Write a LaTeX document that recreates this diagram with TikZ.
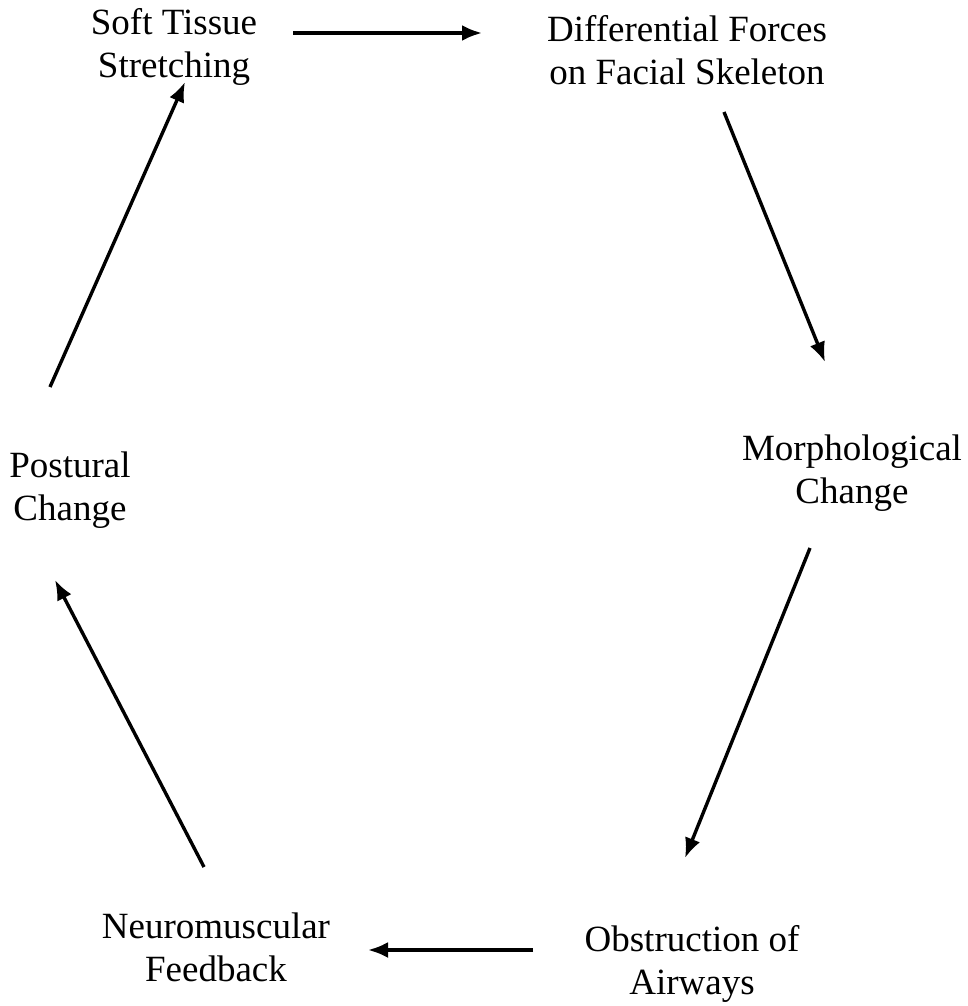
\documentclass[tikz,border=0pt]{standalone}
\usepackage{fontspec}
\setmainfont{Liberation Serif}
\usepackage{tikz}
\usetikzlibrary{positioning}
\usetikzlibrary{arrows.meta}
\tikzset {
  % text of each stage
  stage/.style = {align=center, inner sep=0pt, font=\fontsize{37}{43}\selectfont},
  % arrows of the cycle
  flow/.style = {line width=3.4pt, -{Latex[length=20pt,width=16pt]}},
}
\begin{document}
\begin{tikzpicture}[x=1pt, y=-1pt]
      \useasboundingbox (0,0) rectangle (967,1006);

      \node[stage] (soft) at (174,47) {Soft Tissue\\Stretching};
      \node[stage] (forces) at (687,50) {Differential Forces\\on Facial Skeleton};
      \node[stage] (morph) at (852,473) {Morphological\\Change};
      \node[stage] (obstr) at (692,964) {Obstruction of\\Airways};
      \node[stage] (neuro) at (216,947) {Neuromuscular\\Feedback};
      \node[stage] (post) at (70,490) {Postural\\Change};

      \draw[flow] ([shift={(119,-14)}]soft.center) -- ([shift={(-205,-17)}]forces.center);
      \draw[flow] ([shift={(37,62)}]forces.center) -- ([shift={(-27,-111)}]morph.center);
      \draw[flow] ([shift={(-42,75)}]morph.center) -- ([shift={(-7,-106)}]obstr.center);
      \draw[flow] ([shift={(-159,-14)}]obstr.center) -- ([shift={(152,3)}]neuro.center);
      \draw[flow] ([shift={(-12,-80)}]neuro.center) -- ([shift={(-15,90)}]post.center);
      \draw[flow] ([shift={(-20,-103)}]post.center) -- ([shift={(11,35)}]soft.center);
    \end{tikzpicture}
\end{document}
